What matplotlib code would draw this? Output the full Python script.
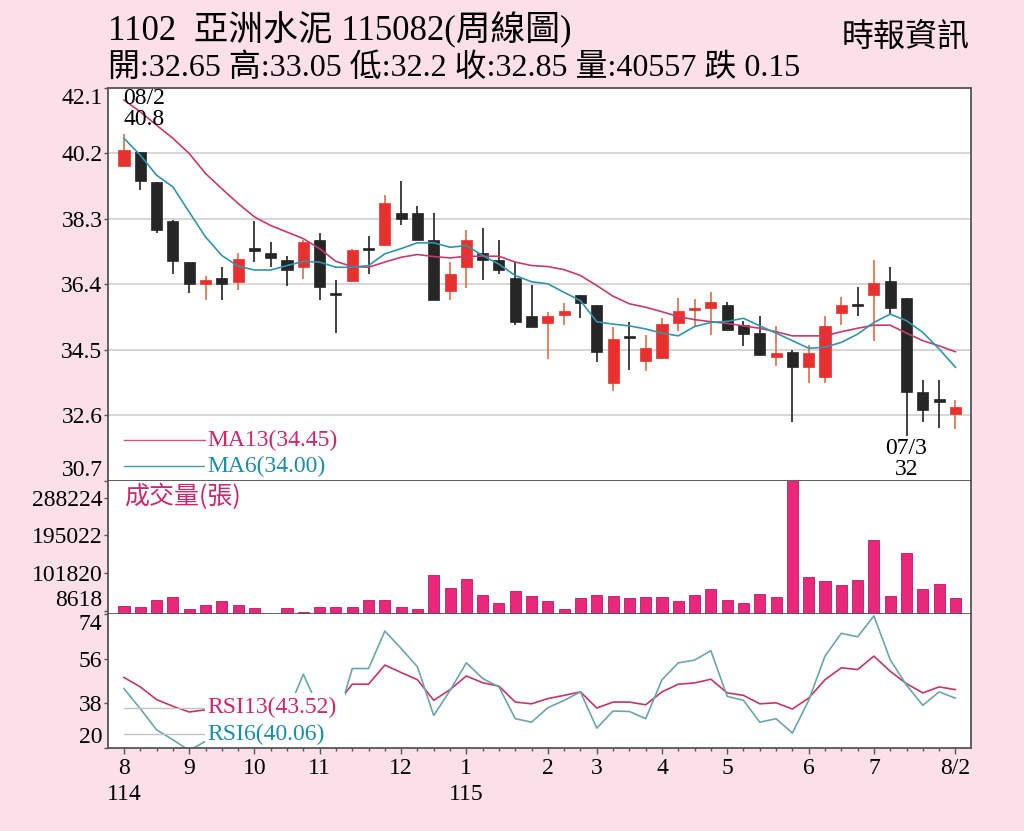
import matplotlib.pyplot as plt
from matplotlib.patches import Rectangle
import numpy as np

plt.rcParams['font.family'] = ['Liberation Serif', 'Noto Sans CJK TC']

BG = '#fbe0ea'
RED = '#e8312f'
BLACK = '#262626'
PINK = '#e9287c'

# 週 K 線 (52 週)
opens = [39.85, 40.23, 39.38, 38.24, 37.05, 36.40, 36.58, 36.47, 37.45, 37.31,
         37.10, 36.90, 37.70, 36.12, 36.50, 37.42, 37.56, 38.48, 38.48, 37.69,
         36.20, 36.90, 37.31, 37.10, 36.58, 35.50, 35.27, 35.52, 36.10, 35.81,
         33.54, 34.86, 34.17, 34.28, 35.27, 35.66, 35.71, 35.81, 35.22, 34.99,
         34.31, 34.45, 34.02, 33.72, 35.56, 35.83, 36.10, 36.50, 36.00, 33.27,
         33.07, 32.65]
highs = [40.78, 40.23, 39.38, 38.28, 37.05, 36.66, 36.90, 37.31, 38.24, 37.63,
         37.24, 37.68, 37.90, 36.52, 37.44, 37.80, 38.99, 39.39, 38.68, 38.48,
         37.05, 37.97, 38.05, 37.68, 37.05, 36.39, 35.61, 35.86, 36.10, 35.81,
         35.16, 35.30, 34.93, 35.42, 36.00, 35.98, 36.17, 35.90, 35.35, 35.50,
         35.20, 34.51, 34.64, 35.50, 36.03, 36.32, 37.10, 36.90, 36.00, 33.62,
         33.62, 33.05]
lows = [39.85, 39.13, 37.90, 36.71, 36.16, 35.95, 35.95, 36.25, 37.05, 36.90,
        36.35, 36.56, 35.96, 34.99, 36.50, 36.71, 37.56, 38.14, 37.70, 35.96,
        35.96, 36.29, 36.53, 36.71, 35.22, 35.18, 34.25, 35.22, 35.42, 34.16,
        33.31, 33.91, 33.90, 34.25, 35.06, 35.16, 34.93, 35.08, 34.62, 34.36,
        34.03, 32.42, 33.54, 33.54, 35.22, 35.50, 34.77, 35.54, 32.00, 32.42,
        32.24, 32.20]
closes = [40.30, 39.40, 37.97, 37.07, 36.42, 36.54, 36.42, 37.14, 37.36, 37.16,
          36.81, 37.63, 36.32, 36.10, 37.39, 37.40, 38.77, 38.29, 37.70, 35.96,
          36.69, 37.69, 37.10, 36.81, 35.32, 35.18, 35.50, 35.64, 35.86, 34.45,
          34.82, 34.84, 34.56, 35.25, 35.64, 35.71, 35.90, 35.08, 34.96, 34.36,
          34.40, 34.02, 34.41, 35.20, 35.81, 35.77, 36.45, 35.71, 33.27, 32.76,
          33.00, 32.85]

ma13 = [41.75, 41.41, 41.02, 40.64, 40.20, 39.62, 39.18, 38.75, 38.36, 38.11,
        37.92, 37.73, 37.44, 37.07, 36.92, 36.90, 37.05, 37.19, 37.27, 37.21,
        37.17, 37.22, 37.22, 37.22, 37.05, 36.95, 36.92, 36.83, 36.66, 36.37,
        36.06, 35.84, 35.74, 35.61, 35.47, 35.38, 35.32, 35.27, 35.20, 35.13,
        35.03, 34.91, 34.91, 34.91, 35.03, 35.13, 35.22, 35.22, 34.99, 34.77,
        34.62, 34.45]
ma6 = [40.64, 40.15, 39.57, 39.23, 38.50, 37.78, 37.24, 36.93, 36.82, 36.82,
       36.95, 37.07, 37.05, 36.90, 36.90, 36.95, 37.29, 37.44, 37.61, 37.61,
       37.48, 37.53, 37.24, 36.99, 36.66, 36.48, 36.42, 36.17, 35.93, 35.32,
       35.25, 35.20, 35.11, 34.99, 34.91, 35.18, 35.30, 35.33, 35.42, 35.20,
       34.99, 34.77, 34.55, 34.58, 34.72, 34.96, 35.30, 35.54, 35.35, 35.01,
       34.53, 34.00]

volumes = [19800, 18000, 33800, 42000, 13000, 21400, 31300, 23000, 14800, 300,
           14800, 4900, 18000, 16500, 16500, 33800, 35400, 18000, 11500, 97000,
           65000, 88000, 47800, 26400, 56900, 43700, 32900, 13000, 40400, 47000,
           43700, 40400, 42000, 42000, 32900, 47000, 61800, 34600, 28000, 48700,
           42000, 352000, 92000, 82400, 71700, 84900, 184600, 45300, 152500, 61800,
           74200, 40557]

rsi13 = [48.4, 44.6, 39.5, 36.8, 34.5, 35.4, 36.0, 40.0, 41.0, 40.0,
         39.0, 42.0, 38.0, 37.2, 45.7, 45.7, 53.4, 50.4, 47.5, 39.2,
         43.5, 49.0, 46.3, 44.9, 38.5, 37.8, 39.9, 41.2, 42.6, 36.1,
         38.5, 38.5, 37.4, 42.6, 45.7, 46.2, 47.7, 42.2, 41.2, 37.8,
         38.2, 35.7, 40.1, 47.5, 52.3, 51.6, 57.0, 50.9, 45.9, 42.2,
         44.6, 43.52]
rsi6 = [43.9, 35.8, 27.3, 23.3, 19.0, 22.7, 24.0, 36.0, 38.0, 36.0,
        34.0, 49.7, 35.2, 29.5, 52.0, 52.0, 67.1, 60.1, 52.7, 33.1,
        43.2, 54.3, 48.0, 44.6, 31.8, 30.4, 36.2, 39.2, 42.6, 28.0,
        34.9, 34.7, 31.8, 47.5, 54.3, 55.4, 59.2, 40.8, 39.2, 30.4,
        31.8, 26.0, 39.2, 57.0, 66.2, 64.8, 73.2, 55.6, 45.3, 37.2,
        42.6, 40.06]

month_pos = [0, 4, 8, 12, 17, 21, 26, 29, 33, 37, 42, 46, 51]
month_labels = ['8\n114', '9', '10', '11', '12', '1\n115', '2', '3', '4', '5', '6', '7', '8/2']

price_ticks = [30.7, 32.6, 34.5, 36.4, 38.3, 40.2, 42.1]
vol_ticks = [8618, 101820, 195022, 288224]
rsi_ticks = [20, 38, 56, 74]

x = np.arange(len(opens))
o = np.array(opens)
c = np.array(closes)
up = c >= o

fig = plt.figure(figsize=(10.24, 8.31), dpi=100, facecolor=BG)
ax1 = fig.add_axes([0.1055, 0.4212, 0.8428, 0.4729])
ax2 = fig.add_axes([0.1055, 0.2611, 0.8428, 0.1601])
ax3 = fig.add_axes([0.1055, 0.0999, 0.8428, 0.1613])

for ax in (ax1, ax2, ax3):
    ax.set_xlim(-0.98, 51.96)
    for s in ax.spines.values():
        s.set_color('#555555')
        s.set_linewidth(1.3)
    ax.tick_params(axis='y', direction='out', length=3, width=1, pad=1,
                   labelsize=17, color='#555555')
ax2.spines['top'].set_visible(False)
ax3.spines['top'].set_visible(False)

# 價格 K 線
body_colors = np.where(up, RED, BLACK)
wick_colors = np.where(up, '#e27a55', '#333333')
ax1.vlines(x, lows, highs, colors=wick_colors, linewidth=1.3, zorder=2)
ax1.bar(x, np.maximum(np.abs(c - o), 0.06), bottom=np.minimum(o, c), width=0.68,
        color=body_colors, edgecolor=body_colors, linewidth=0.5, zorder=3)
ax1.plot(x, ma13, color='#c93a6e', linewidth=1.2, zorder=4)
ax1.plot(x, ma6, color='#2e96ad', linewidth=1.2, zorder=4)

ax1.set_ylim(30.7, 42.1)
ax1.set_yticks(price_ticks)
ax1.set_yticklabels([str(t) for t in price_ticks])
ax1.yaxis.grid(True, color='#cfcfcf', linewidth=1.2)
ax1.set_axisbelow(True)
ax1.set_xticks([])
ylab = ax1.get_yticklabels()
ylab[0].set_va('bottom')
ylab[-1].set_va('top')

ax1.text(-0.05, 42.1, '08/2\n40.8', fontsize=17, ha='left', va='top', linespacing=1.0, zorder=6)
ax1.annotate('07/3\n32', xy=(48, min(lows)), xytext=(0, -1), textcoords='offset points',
             fontsize=17, ha='center', va='top', linespacing=1.0, annotation_clip=False,
             bbox=dict(facecolor='white', edgecolor='none', pad=0.5), zorder=6)

# 均線圖例
ax1.plot([0.0185, 0.1147], [0.104, 0.104], transform=ax1.transAxes, color='#c9587f', linewidth=1)
ax1.plot([0.0185, 0.1147], [0.038, 0.038], transform=ax1.transAxes, color='#3f9db0', linewidth=1)
ax1.text(0.1147, 0.104, 'MA13(34.45)', transform=ax1.transAxes, fontsize=17, color='#d1266b',
         va='center', bbox=dict(facecolor='white', edgecolor='none', pad=0.5), zorder=6)
ax1.text(0.1147, 0.038, 'MA6(34.00)', transform=ax1.transAxes, fontsize=17, color='#1b8ea9',
         va='center', bbox=dict(facecolor='white', edgecolor='none', pad=1.5), zorder=6)

# 成交量
ax2.bar(x, volumes, width=0.68, color=PINK, edgecolor='#b81c60', linewidth=0.6)
ax2.set_ylim(0, 330000)
ax2.set_yticks(vol_ticks)
ax2.set_yticklabels([str(t) for t in vol_ticks])
ax2.set_xticks([])
ax2.get_yticklabels()[0].set_va('bottom')
ax2.text(0.0185, 0.88, '成交量(張)', transform=ax2.transAxes, fontsize=18, color='#d1266b',
         va='center', family=['Noto Sans CJK TC'])

# RSI
ax3.plot(x, rsi13, color='#c8336b', linewidth=1.2)
ax3.plot(x, rsi6, color='#6aa6ae', linewidth=1.2)
ax3.set_ylim(20, 74)
ax3.set_yticks(rsi_ticks)
ax3.set_yticklabels([str(t) for t in rsi_ticks])
rlab = ax3.get_yticklabels()
rlab[0].set_va('bottom')
rlab[-1].set_va('top')

ax3.plot([0.0185, 0.1147], [0.30, 0.30], transform=ax3.transAxes, color='#c4c4c4', linewidth=1)
ax3.plot([0.0185, 0.1147], [0.102, 0.102], transform=ax3.transAxes, color='#c4c4c4', linewidth=1)
# 圖例白底
ax3.add_patch(Rectangle((0.1124, 0.005), 0.1622, 0.405, transform=ax3.transAxes,
                        facecolor='white', edgecolor='none', zorder=5))
ax3.text(0.1147, 0.30, 'RSI13(43.52)', transform=ax3.transAxes, fontsize=17, color='#d1266b',
         va='center', zorder=6)
ax3.text(0.1147, 0.102, 'RSI6(40.06)', transform=ax3.transAxes, fontsize=17, color='#1b8ea9',
         va='center', zorder=6)

ax3.set_xticks(month_pos)
ax3.set_xticklabels(month_labels, linespacing=1.3)
ax3.set_xticks(x, minor=True)
ax3.tick_params(axis='x', which='major', direction='out', length=4, width=1,
                labelsize=17, pad=3, color='#555555')
ax3.tick_params(axis='x', which='minor', direction='out', length=2.5, width=1, color='#555555')
for lab in ax3.get_xticklabels():
    lab.set_va('top')

# 標題
fig.text(108 / 1024, 1 - 30 / 831, '1102  亞洲水泥 115082(周線圖)', fontsize=25, va='center')
fig.text(108 / 1024, 1 - 68 / 831, '開:32.65 高:33.05 低:32.2 收:32.85 量:40557 跌 0.15',
         fontsize=23, va='center')
fig.text(970 / 1024, 1 - 38 / 831, '時報資訊', fontsize=23, va='center', ha='right')

fig.savefig('out.png', dpi=100, facecolor=BG)
